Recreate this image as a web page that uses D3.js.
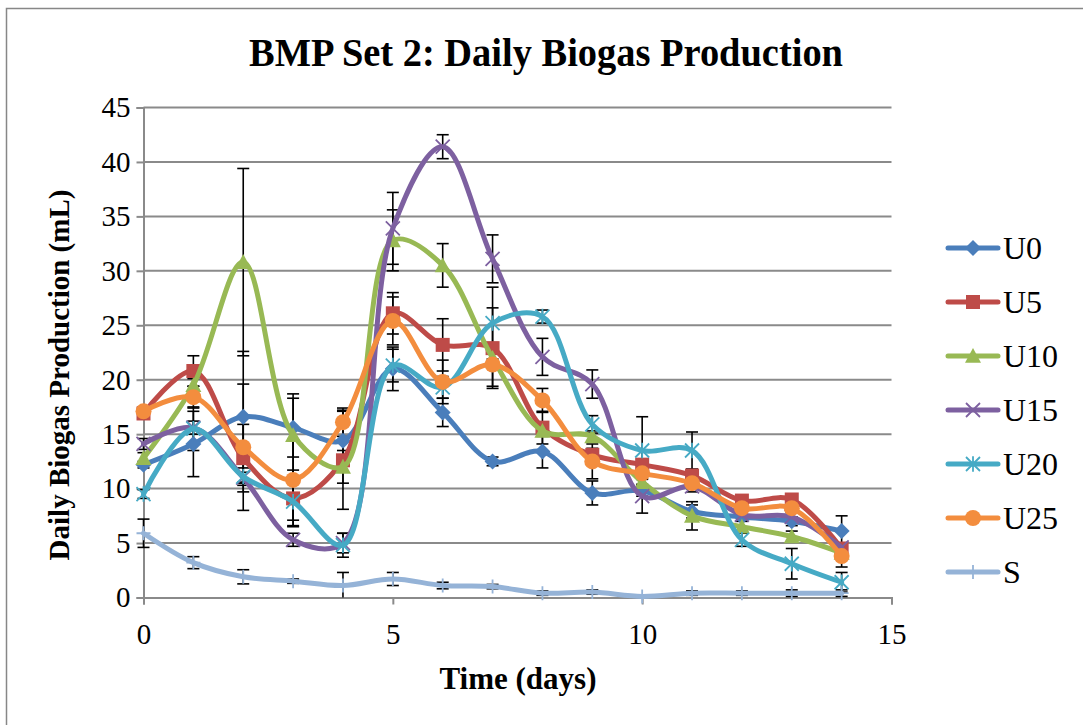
<!DOCTYPE html>
<html>
<head>
<meta charset="utf-8">
<script src="https://cdn.jsdelivr.net/npm/d3@7"></script>
<style>
  html, body { margin: 0; padding: 0; background: #ffffff; }
  svg { display: block; }
  svg text { font-family: "Liberation Serif", "Times New Roman", "DejaVu Serif", serif !important; fill: #000; }
</style>
</head>
<body>
<svg id="chart" width="1083" height="725"></svg>
<script>
// Days of incubation
const days = [0, 1, 2, 3, 4, 5, 6, 7, 8, 9, 10, 11, 12, 13, 14];

// Daily biogas production (mL) per reactor
const U0  = [12.2, 14.1, 16.6, 15.6, 14.4, 21.0, 17.0, 12.5, 13.4, 9.6, 9.8, 7.9, 7.4, 7.0, 6.1];
const U5  = [16.9, 20.8, 12.8, 9.1, 12.6, 26.1, 23.2, 22.9, 15.6, 13.1, 12.2, 11.2, 8.9, 9.0, 4.5];
const U10 = [12.8, 19.5, 30.8, 14.9, 12.0, 32.8, 30.5, 22.0, 15.3, 14.8, 10.6, 7.5, 6.5, 5.6, 4.1];
const U15 = [14.1, 15.6, 11.0, 5.3, 5.0, 33.9, 41.4, 31.1, 22.1, 19.6, 9.3, 10.2, 7.6, 7.4, 4.6];
const U20 = [9.5, 15.5, 11.1, 8.8, 4.8, 21.3, 19.3, 25.2, 25.8, 15.9, 13.5, 13.5, 5.3, 3.1, 1.4];
const U25 = [17.1, 18.4, 13.8, 10.8, 16.1, 25.4, 19.8, 21.4, 18.1, 12.5, 11.4, 10.5, 8.2, 8.2, 3.8];
const S   = [5.9, 3.2, 1.9, 1.5, 1.1, 1.7, 1.1, 1.0, 0.4, 0.5, 0.1, 0.4, 0.4, 0.4, 0.4];

// Error (± mL) for each reactor
const errU0  = [0.3, 3.0, 6.0, 2.7, 2.8, 2.0, 1.3, 0.4, 1.5, 1.1, 0.5, 0.6, 0.4, 0.4, 1.4];
const errU5  = [0.4, 1.4, 3.1, 2.6, 4.5, 1.9, 2.4, 3.7, 1.5, 0.6, 0.5, 0.5, 0.4, 0.4, 0.5];
const errU10 = [0.5, 0.6, 8.6, 3.8, 1.5, 2.8, 2.0, 0.6, 0.5, 0.5, 0.6, 1.3, 0.5, 0.5, 0.5];
const errU15 = [0.5, 0.6, 0.5, 0.6, 0.9, 3.3, 1.1, 2.2, 1.7, 1.3, 1.55, 0.5, 0.4, 0.4, 0.4];
const errU20 = [0.4, 2.0, 0.8, 2.2, 1.1, 1.5, 1.0, 3.3, 0.6, 0.8, 3.1, 1.7, 0.6, 1.4, 0.9];
const errU25 = [0.4, 1.0, 5.8, 3.7, 1.3, 2.2, 2.0, 2.0, 1.1, 1.6, 0.5, 0.5, 0.4, 0.4, 1.0];
const errS   = [1.3, 0.55, 0.65, 0.2, 1.2, 0.6, 0.3, 0.2, 0.2, 0.2, 0.1, 0.2, 0.2, 0.3, 0.3];

const seriesNames = ["U0", "U5", "U10", "U15", "U20", "U25", "S"];
const seriesValues = [U0, U5, U10, U15, U20, U25, S];
const seriesErrors = [errU0, errU5, errU10, errU15, errU20, errU25, errS];
const seriesColors = ["#4A7EBB", "#BE4B48", "#98B954", "#7D60A0", "#46AAC5", "#F38D3E", "#95B3D7"];
const seriesMarkers = ["diamond", "square", "triangle", "cross", "star", "circle", "plus"];

const xTicks = [0, 5, 10, 15];
const yTicks = [0, 5, 10, 15, 20, 25, 30, 35, 40, 45];

const SERIF = "'Liberation Serif', 'Times New Roman', 'DejaVu Serif', serif";

const svg = d3.select("#chart");
const W = 1083, H = 725;

// chart frame
svg.append("rect")
  .attr("x", 6.5).attr("y", 8.5)
  .attr("width", W + 10).attr("height", H + 10)
  .attr("fill", "#fff").attr("stroke", "#878787").attr("stroke-width", 1.5);

const plot = { left: 143.5, right: 891.5, top: 107.5, bottom: 597.5 };

const x = d3.scaleLinear().domain([0, 15]).range([plot.left, plot.right]);
const y = d3.scaleLinear().domain([0, 45]).range([plot.bottom, plot.top]);

// horizontal gridlines
svg.append("g")
  .selectAll("line")
  .data(yTicks.filter(v => v > 0))
  .join("line")
  .attr("x1", plot.left).attr("x2", plot.right)
  .attr("y1", d => y(d)).attr("y2", d => y(d))
  .attr("stroke", "#8a8a8a").attr("stroke-width", 2);

// y axis
const yAxis = svg.append("g")
  .attr("transform", `translate(${plot.left},0)`)
  .call(d3.axisLeft(y).tickValues(yTicks).tickSize(7).tickPadding(6).tickFormat(d3.format("d")));
yAxis.attr("font-family", SERIF);
yAxis.select(".domain").attr("stroke", "#8a8a8a").attr("stroke-width", 2);
yAxis.selectAll(".tick line").attr("stroke", "#8a8a8a").attr("stroke-width", 2);
yAxis.selectAll(".tick text")
  .style("font-family", SERIF).attr("font-size", 29).attr("fill", "#000");

// x axis
const xAxis = svg.append("g")
  .attr("transform", `translate(0,${plot.bottom})`)
  .call(d3.axisBottom(x).tickValues(xTicks).tickSize(7).tickPadding(19).tickFormat(d3.format("d")));
xAxis.attr("font-family", SERIF);
xAxis.select(".domain").attr("stroke", "#8a8a8a").attr("stroke-width", 2);
xAxis.selectAll(".tick line").attr("stroke", "#8a8a8a").attr("stroke-width", 2);
xAxis.selectAll(".tick text")
  .style("font-family", SERIF).attr("font-size", 29).attr("fill", "#000");

// title and axis titles
svg.append("text")
  .attr("x", 546).attr("y", 66)
  .attr("text-anchor", "middle")
  .style("font-family", SERIF)
  .attr("font-size", 41).attr("font-weight", "bold")
  .attr("textLength", 594).attr("lengthAdjust", "spacingAndGlyphs")
  .text("BMP Set 2: Daily Biogas Production");

svg.append("text")
  .attr("x", 518).attr("y", 689)
  .attr("text-anchor", "middle")
  .style("font-family", SERIF)
  .attr("font-size", 31).attr("font-weight", "bold")
  .text("Time (days)");

svg.append("text")
  .attr("transform", "translate(69,375) rotate(-90)")
  .attr("text-anchor", "middle")
  .style("font-family", SERIF)
  .attr("font-size", 29).attr("font-weight", "bold")
  .text("Daily Biogas Production (mL)");

// marker shapes
function drawMarker(g, type, color, cx, cy, scale) {
  const s = scale || 1;
  if (type === "diamond") {
    const r = 8 * s;
    g.append("path")
      .attr("d", `M${cx},${cy - r}L${cx + r},${cy}L${cx},${cy + r}L${cx - r},${cy}Z`)
      .attr("fill", color);
  } else if (type === "square") {
    const r = 7 * s;
    g.append("rect").attr("x", cx - r).attr("y", cy - r)
      .attr("width", 2 * r).attr("height", 2 * r).attr("fill", color);
  } else if (type === "triangle") {
    const r = 8 * s;
    g.append("path")
      .attr("d", `M${cx},${cy - r}L${cx + r},${cy + r * 0.85}L${cx - r},${cy + r * 0.85}Z`)
      .attr("fill", color);
  } else if (type === "cross") {
    const r = 7 * s;
    g.append("path")
      .attr("d", `M${cx - r},${cy - r}L${cx + r},${cy + r}M${cx - r},${cy + r}L${cx + r},${cy - r}`)
      .attr("stroke", color).attr("stroke-width", 1.8).attr("fill", "none");
  } else if (type === "star") {
    const r = 7 * s;
    g.append("path")
      .attr("d", `M${cx - r},${cy - r}L${cx + r},${cy + r}M${cx - r},${cy + r}L${cx + r},${cy - r}M${cx},${cy - r * 1.1}L${cx},${cy + r * 1.1}`)
      .attr("stroke", color).attr("stroke-width", 1.8).attr("fill", "none");
  } else if (type === "circle") {
    g.append("circle").attr("cx", cx).attr("cy", cy).attr("r", 8 * s).attr("fill", color);
  } else if (type === "plus") {
    const r = 7 * s;
    g.append("path")
      .attr("d", `M${cx - r},${cy}L${cx + r},${cy}M${cx},${cy - r}L${cx},${cy + r}`)
      .attr("stroke", color).attr("stroke-width", 1.8).attr("fill", "none");
  }
}

const line = d3.line()
  .x((d, i) => x(days[i]))
  .y(d => y(d))
  .curve(d3.curveCatmullRom.alpha(0.5));

// error bars beneath the series
const errG = svg.append("g");
seriesValues.forEach((vals, si) => {
  const errs = seriesErrors[si];
  vals.forEach((v, i) => {
    const e = errs[i];
    if (!e) return;
    const cx = x(days[i]);
    const hi = y(v + e), lo = y(Math.max(0, v - e));
    const cap = 6;
    errG.append("line").attr("x1", cx).attr("x2", cx).attr("y1", hi).attr("y2", lo)
      .attr("stroke", "#000").attr("stroke-width", 1.6);
    errG.append("line").attr("x1", cx - cap).attr("x2", cx + cap).attr("y1", hi).attr("y2", hi)
      .attr("stroke", "#000").attr("stroke-width", 1.6);
    if (v - e > 0) {
      errG.append("line").attr("x1", cx - cap).attr("x2", cx + cap).attr("y1", lo).attr("y2", lo)
        .attr("stroke", "#000").attr("stroke-width", 1.6);
    }
  });
});

// series lines and markers
seriesValues.forEach((vals, si) => {
  const g = svg.append("g");
  g.append("path")
    .attr("d", line(vals))
    .attr("fill", "none")
    .attr("stroke", seriesColors[si])
    .attr("stroke-width", 5)
    .attr("stroke-linecap", "round")
    .attr("stroke-linejoin", "round");
  vals.forEach((v, i) => drawMarker(g, seriesMarkers[si], seriesColors[si], x(days[i]), y(v), 1));
});

// legend
const legend = svg.append("g");
seriesNames.forEach((name, i) => {
  const ly = 248 + i * 54;
  const g = legend.append("g");
  g.append("line")
    .attr("x1", 948).attr("x2", 998).attr("y1", ly).attr("y2", ly)
    .attr("stroke", seriesColors[i]).attr("stroke-width", 5).attr("stroke-linecap", "round");
  drawMarker(g, seriesMarkers[i], seriesColors[i], 973, ly, 1);
  g.append("text")
    .attr("x", 1003).attr("y", ly + 11)
    .style("font-family", SERIF)
    .attr("font-size", 32)
    .text(name);
});
</script>
</body>
</html>
